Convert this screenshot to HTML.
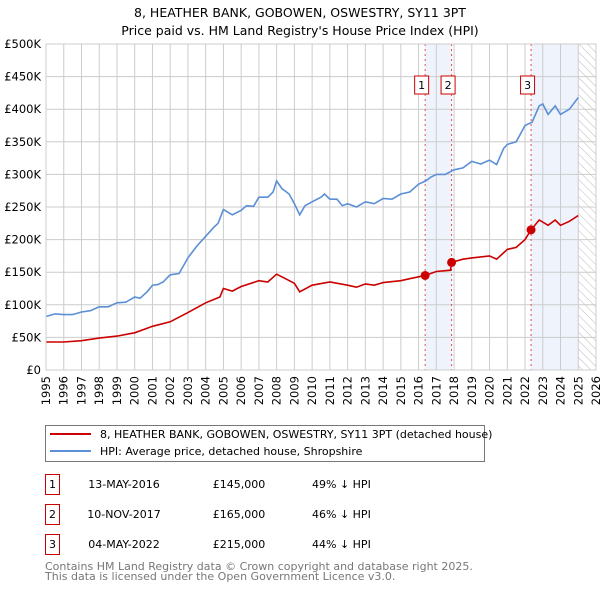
<!DOCTYPE html>
<html><head><meta charset="utf-8"><style>
body{margin:0;background:#fff;font-family:"DejaVu Sans","Liberation Sans",sans-serif;}
</style></head><body>
<svg width="600" height="590" xmlns="http://www.w3.org/2000/svg" font-family="DejaVu Sans, Liberation Sans, sans-serif">
<defs><pattern id="hatch" width="6" height="6" patternUnits="userSpaceOnUse" patternTransform="rotate(-45)"><line x1="0" y1="0" x2="0" y2="6" stroke="#bbb" stroke-width="1"/></pattern></defs>
<text x="300" y="17" text-anchor="middle" font-size="12.5">8, HEATHER BANK, GOBOWEN, OSWESTRY, SY11 3PT</text>
<text x="300" y="35" text-anchor="middle" font-size="12.5">Price paid vs. HM Land Registry's House Price Index (HPI)</text>
<g id="plot"></g>
<g>
<rect x="45.5" y="425.5" width="439" height="36" fill="#fff" stroke="#777"/>
<line x1="50" y1="434" x2="91" y2="434" stroke="#cc0000" stroke-width="2"/>
<text x="100" y="438" font-size="11">8, HEATHER BANK, GOBOWEN, OSWESTRY, SY11 3PT (detached house)</text>
<line x1="50" y1="451" x2="91" y2="451" stroke="#5b8fd6" stroke-width="2"/>
<text x="100" y="455" font-size="11">HPI: Average price, detached house, Shropshire</text>
</g>
<g id="table" font-size="11"></g>
<text x="45" y="570" font-size="11" fill="#777">Contains HM Land Registry data © Crown copyright and database right 2025.</text>
<text x="45" y="580" font-size="11" fill="#777">This data is licensed under the Open Government Licence v3.0.</text>
</svg>
<script>
const hpiYears=[1995,1995.5,1996,1996.5,1997,1997.5,1998,1998.5,1999,1999.5,2000,2000.3,2000.7,2001,2001.3,2001.6,2002,2002.5,2003,2003.5,2004,2004.5,2004.7,2005,2005.5,2006,2006.3,2006.7,2007,2007.5,2007.8,2008,2008.3,2008.7,2009,2009.3,2009.6,2010,2010.5,2010.7,2011,2011.4,2011.7,2012,2012.5,2013,2013.5,2014,2014.5,2015,2015.5,2016,2016.4,2016.7,2017,2017.5,2018,2018.5,2019,2019.5,2020,2020.4,2020.8,2021,2021.5,2022,2022.4,2022.8,2023,2023.3,2023.7,2024,2024.5,2025];
const hpiValues=[82,86,85,85,89,91,97,97,103,104,112,110,120,130,131,135,146,148,172,190,205,220,225,246,238,245,252,251,265,265,273,290,278,270,255,238,252,258,265,270,262,262,252,255,250,258,255,263,262,270,273,285,290,296,300,300,307,310,320,316,322,315,340,346,350,375,380,405,408,392,405,392,400,418];
const ppYears=[1995,1996,1997,1998,1999,2000,2001,2002,2003,2004,2004.8,2005,2005.5,2006,2007,2007.5,2008,2008.5,2009,2009.3,2010,2011,2012,2012.5,2013,2013.5,2014,2015,2015.5,2016,2016.37,2017,2017.8,2017.86,2018.5,2019,2020,2020.4,2021,2021.5,2022,2022.34,2022.8,2023.3,2023.7,2024,2024.5,2025];
const ppValues=[43,43,45,49,52,57,67,74,88,103,112,125,121,128,137,135,147,140,133,120,130,135,130,127,132,130,134,137,140,143,145,151,153,165,170,172,175,170,185,188,200,215,230,222,230,222,228,237];
const saleYears=[2016.37,2017.86,2022.34];
const saleValues=[145,165,215];
const saleLabels=["1","2","3"];
const saleDates=["13-MAY-2016","10-NOV-2017","04-MAY-2022"];
const salePrices=["£145,000","£165,000","£215,000"];
const saleDiffs=["49% ↓ HPI","46% ↓ HPI","44% ↓ HPI"];
const yTicks=[0,50,100,150,200,250,300,350,400,450,500];
const yTickLabels=["£0","£50K","£100K","£150K","£200K","£250K","£300K","£350K","£400K","£450K","£500K"];
const xTicks=[];for(let y=1995;y<=2026;y++)xTicks.push(y);

const NS="http://www.w3.org/2000/svg";
const X0=46,X1=596,Y0=370,Y1=44;
const xs=v=>X0+(v-1995)/(2026-1995)*(X1-X0);
const ys=v=>Y0-v/500*(Y0-Y1);
function mk(tag,attrs,parent,txt){const e=document.createElementNS(NS,tag);for(const k in attrs)e.setAttribute(k,attrs[k]);if(txt!==undefined)e.textContent=txt;parent.appendChild(e);return e;}
const g=document.getElementById('plot');
let s1=mk('rect',{x:xs(saleYears[0]),y:Y1,width:xs(saleYears[1])-xs(saleYears[0]),height:Y0-Y1,fill:'#eef3fc'},g);


let s2=mk('rect',{x:xs(saleYears[2]),y:Y1,width:xs(2025)-xs(saleYears[2]),height:Y0-Y1,fill:'#eef3fc'},g);


let h=mk('rect',{x:xs(2025),y:Y1,width:xs(2026)-xs(2025),height:Y0-Y1,fill:'url(#hatch)'},g);


xTicks.forEach(t=>{const l=mk('line',{x1:xs(t),x2:xs(t),y1:Y1,y2:Y0,stroke:'#ccc','stroke-width':1},g);


const tx=mk('text',{x:0,y:0,'font-size':11.5,'text-anchor':'end',transform:`translate(${xs(t)+4},${Y0+6}) rotate(-90)`},g,String(t));

});
yTicks.forEach((t,i)=>{const l=mk('line',{x1:X0,x2:X1,y1:ys(t),y2:ys(t),stroke:'#ccc','stroke-width':1},g);


const tx=mk('text',{x:X0-5,y:ys(t)+4,'font-size':11.5,'text-anchor':'end'},g,yTickLabels[i]);

});
saleYears.forEach((y,i)=>{const l=mk('line',{x1:xs(y),x2:xs(y),y1:Y1,y2:Y0,stroke:'#e05050','stroke-dasharray':'2,3','stroke-width':1},g);


const bx=mk('rect',{x:xs(y)-10.5,y:76,width:14,height:18,fill:'#fff',stroke:'#cc0000'},g);


const t=mk('text',{x:xs(y)-3.5,y:89,'font-size':11,'text-anchor':'middle'},g,saleLabels[i]);

});
function line(xa,va,col,name){const d=xa.map((x,i)=>(i?'L':'M')+xs(x).toFixed(1)+','+ys(va[i]).toFixed(1)).join('');
const p=mk('path',{d:d,fill:'none',stroke:col,'stroke-width':1.6},g);

}
line(hpiYears,hpiValues,'#5b8fd6','hpi-line');
line(ppYears,ppValues,'#cc0000','price-paid-line');
saleYears.forEach((y,i)=>{const c=mk('circle',{cx:xs(y),cy:ys(saleValues[i]),r:4.5,fill:'#cc0000'},g);

});
mk('rect',{x:X0,y:Y1,width:X1-X0,height:Y0-Y1,fill:'none',stroke:'#ccc'},g);
const tb=document.getElementById('table');
saleLabels.forEach((lab,i)=>{const y=483+i*30;
const r=mk('rect',{x:45.5,y:y-8.5,width:14,height:20,fill:'#fff',stroke:'#cc0000'},tb);


mk('text',{x:52.5,y:y+5,'text-anchor':'middle'},tb,lab);
const a=mk('text',{x:124,y:y+5,'text-anchor':'middle'},tb,saleDates[i]);


const b=mk('text',{x:239,y:y+5,'text-anchor':'middle'},tb,salePrices[i]);


const c=mk('text',{x:312,y:y+5},tb,saleDiffs[i]);

});
</script>
</body></html>
